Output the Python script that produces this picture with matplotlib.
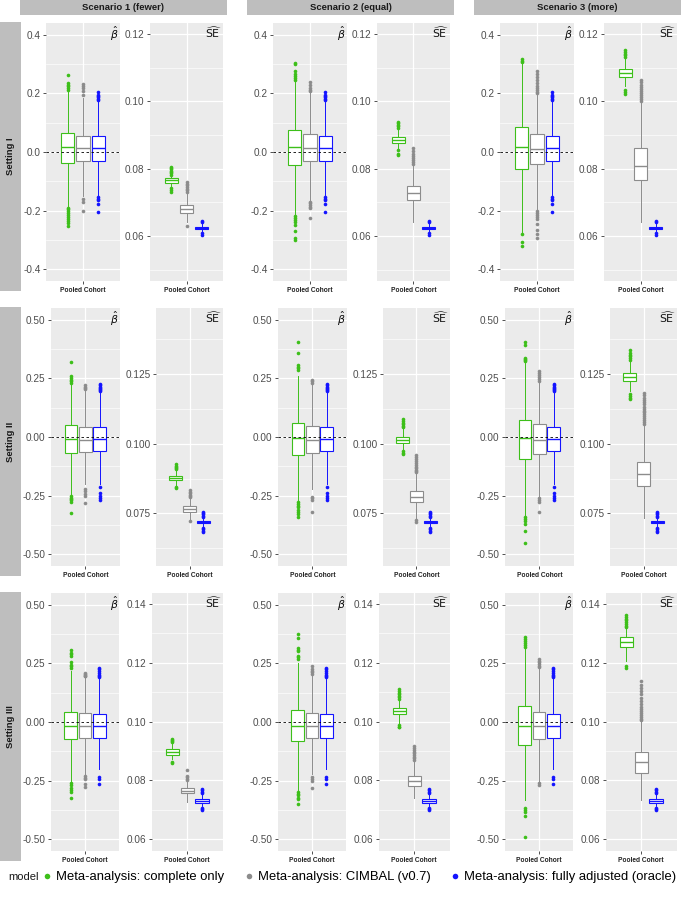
import matplotlib
matplotlib.use('Agg')
import matplotlib.pyplot as plt
from matplotlib.lines import Line2D
from matplotlib.patches import Rectangle

plt.rcParams['font.family'] = ['Liberation Sans', 'DejaVu Sans']
plt.rcParams['axes.unicode_minus'] = False
plt.rcParams['mathtext.fontset'] = 'dejavusans'

scenarios = ['Scenario 1 (fewer)', 'Scenario 2 (equal)', 'Scenario 3 (more)']
settings = ['Setting I', 'Setting II', 'Setting III']
models = ['Meta-analysis: complete only', 'Meta-analysis: CIMBAL (v0.7)',
          'Meta-analysis: fully adjusted (oracle)']
colors = ['#3dbf1a', '#8c8c8c', '#1414ff']

# box stats per scenario, per model: [whisker low, q1, median, q3, whisker high]
beta_I = [
    [[-0.185, -0.036, 0.018, 0.066, 0.21], [-0.15, -0.031, 0.015, 0.055, 0.185], [-0.15, -0.029, 0.013, 0.054, 0.175]],
    [[-0.212, -0.0445, 0.018, 0.0735, 0.24], [-0.165, -0.032, 0.0145, 0.06, 0.2], [-0.15, -0.029, 0.013, 0.054, 0.175]],
    [[-0.272, -0.057, 0.016, 0.086, 0.3], [-0.195, -0.04, 0.011, 0.063, 0.196], [-0.15, -0.029, 0.013, 0.054, 0.175]],
]
beta_I_out = [
    [[0.213, 0.218, 0.224, 0.23, 0.236, 0.262, -0.19, -0.196, -0.202, -0.208, -0.215, -0.222, -0.228, -0.235, -0.243, -0.252],
     [0.195, 0.208, 0.218, 0.226, 0.232, -0.16, -0.17, -0.2],
     [0.178, 0.182, 0.186, 0.19, 0.196, 0.205, -0.155, -0.16, -0.165, -0.178, -0.205]],
    [[0.247, 0.253, 0.26, 0.267, 0.275, 0.3, 0.305, -0.218, -0.225, -0.232, -0.24, -0.25, -0.27, -0.292, -0.3],
     [0.207, 0.213, 0.22, 0.23, 0.238, -0.17, -0.175, -0.18, -0.187, -0.192, -0.225],
     [0.178, 0.182, 0.186, 0.19, 0.196, 0.205, -0.155, -0.16, -0.165, -0.178, -0.205]],
    [[0.308, 0.312, 0.316, -0.28, -0.307, -0.32],
     [0.2, 0.206, 0.212, 0.218, 0.226, 0.235, 0.245, 0.255, 0.265, 0.275, -0.2, -0.207, -0.215, -0.222, -0.23, -0.245, -0.265, -0.28, -0.294],
     [0.178, 0.182, 0.186, 0.19, 0.196, 0.205, -0.155, -0.16, -0.165, -0.178, -0.205]],
]
se_I = [
    [[0.0745, 0.0758, 0.0765, 0.0772, 0.0779], [0.064, 0.0667, 0.068, 0.0692, 0.0728], [0.0612, 0.0622, 0.0625, 0.0628, 0.0637]],
    [[0.086, 0.0877, 0.0886, 0.0894, 0.0918], [0.064, 0.0706, 0.0727, 0.0749, 0.081], [0.0612, 0.0622, 0.0625, 0.0628, 0.0637]],
    [[0.1045, 0.1071, 0.1085, 0.1097, 0.1128], [0.0642, 0.0766, 0.0809, 0.086, 0.0998], [0.0612, 0.0622, 0.0625, 0.0628, 0.0637]],
]
se_I_out = [
    [[0.0782, 0.0786, 0.079, 0.0794, 0.0798, 0.0802, 0.0806, 0.0741, 0.0736, 0.073],
     [0.0732, 0.0736, 0.074, 0.0745, 0.075, 0.0755, 0.076, 0.063],
     [0.064, 0.0645, 0.0608, 0.0604]],
    [[0.0922, 0.0926, 0.093, 0.0935, 0.0938, 0.0855, 0.0845, 0.084],
     [0.0815, 0.082, 0.0826, 0.0832, 0.0838, 0.0845, 0.0852, 0.0862],
     [0.064, 0.0645, 0.0608, 0.0604]],
    [[0.1132, 0.1137, 0.1142, 0.1148, 0.1154, 0.1035, 0.1029, 0.1022],
     [0.1002, 0.1008, 0.1014, 0.102, 0.1026, 0.1032, 0.1038, 0.1044, 0.105, 0.1057, 0.1065],
     [0.064, 0.0645, 0.0608, 0.0604]],
]

beta_II = [
    [[-0.245, -0.07, -0.008, 0.05, 0.225], [-0.2, -0.063, -0.011, 0.043, 0.2], [-0.2, -0.06, -0.008, 0.042, 0.19]],
    [[-0.273, -0.076, -0.005, 0.06, 0.259], [-0.223, -0.067, -0.011, 0.046, 0.225], [-0.2, -0.06, -0.008, 0.042, 0.19]],
    [[-0.337, -0.093, -0.005, 0.0715, 0.316], [-0.252, -0.0715, -0.011, 0.056, 0.235], [-0.2, -0.06, -0.008, 0.042, 0.19]],
]
beta_II_out = [
    [[0.231, 0.237, 0.243, 0.25, 0.259, 0.32, -0.252, -0.258, -0.264, -0.27, -0.276, -0.323],
     [0.205, 0.21, 0.215, 0.223, -0.222, -0.232, -0.242, -0.25, -0.28],
     [0.195, 0.2, 0.205, 0.21, 0.215, 0.22, 0.225, -0.214, -0.238, -0.25, -0.26, -0.27]],
    [[0.287, 0.293, 0.3, 0.309, 0.358, 0.405, -0.277, -0.285, -0.293, -0.3, -0.31, -0.32, -0.33, -0.34],
     [0.232, 0.238, 0.245, -0.254, -0.262, -0.269, -0.32],
     [0.195, 0.2, 0.205, 0.21, 0.215, 0.22, 0.225, -0.214, -0.238, -0.25, -0.26, -0.27]],
    [[0.323, 0.327, 0.332, 0.337, 0.394, 0.403, -0.342, -0.35, -0.36, -0.37, -0.4, -0.45],
     [0.24, 0.247, 0.255, 0.263, 0.272, 0.28, -0.26, -0.268, -0.276, -0.32],
     [0.195, 0.2, 0.205, 0.21, 0.215, 0.22, 0.225, -0.214, -0.238, -0.25, -0.26, -0.27]],
]
se_II = [
    [[0.085, 0.0869, 0.0878, 0.0885, 0.0905], [0.0725, 0.0756, 0.0767, 0.0776, 0.0803], [0.0702, 0.0714, 0.0718, 0.0722, 0.0735]],
    [[0.098, 0.1003, 0.1014, 0.1025, 0.1055], [0.0735, 0.0789, 0.081, 0.0831, 0.0893], [0.0702, 0.0714, 0.0718, 0.0722, 0.0735]],
    [[0.119, 0.1225, 0.124, 0.1255, 0.1298], [0.0732, 0.0848, 0.089, 0.0935, 0.1064], [0.0702, 0.0714, 0.0718, 0.0722, 0.0735]],
]
se_II_out = [
    [[0.0908, 0.0912, 0.0916, 0.092, 0.0927, 0.0845, 0.084],
     [0.0807, 0.0812, 0.0817, 0.0822, 0.0828, 0.0834, 0.0721],
     [0.0738, 0.0742, 0.0746, 0.075, 0.0754, 0.0698, 0.0693, 0.0688, 0.0684]],
    [[0.1059, 0.1064, 0.107, 0.1076, 0.1082, 0.1087, 0.0972, 0.0966, 0.0963],
     [0.0897, 0.0902, 0.0907, 0.0912, 0.0918, 0.0924, 0.093, 0.0937, 0.0945, 0.0952, 0.0959, 0.0726, 0.0719],
     [0.0738, 0.0742, 0.0746, 0.075, 0.0754, 0.0698, 0.0693, 0.0688, 0.0684]],
    [[0.1302, 0.1308, 0.1314, 0.132, 0.1327, 0.1336, 0.1178, 0.1172, 0.1165, 0.1159],
     [0.107, 0.1077, 0.1084, 0.1091, 0.1098, 0.1105, 0.1112, 0.1119, 0.1126, 0.1133, 0.1141, 0.1149, 0.1157, 0.1165, 0.1174, 0.1183],
     [0.0738, 0.0742, 0.0746, 0.075, 0.0754, 0.0698, 0.0693, 0.0688, 0.0684]],
]

beta_III = [
    [[-0.252, -0.0745, -0.018, 0.043, 0.219], [-0.226, -0.067, -0.018, 0.039, 0.19], [-0.202, -0.069, -0.018, 0.035, 0.186]],
    [[-0.29, -0.0815, -0.015, 0.053, 0.252], [-0.223, -0.07, -0.018, 0.039, 0.2], [-0.202, -0.069, -0.018, 0.035, 0.186]],
    [[-0.333, -0.099, -0.015, 0.067, 0.311], [-0.252, -0.0745, -0.015, 0.042, 0.228], [-0.202, -0.069, -0.018, 0.035, 0.186]],
]
beta_III_out = [
    [[0.231, 0.238, 0.245, 0.254, 0.28, 0.288, 0.296, 0.306, -0.26, -0.27, -0.28, -0.29, -0.3, -0.323],
     [0.194, 0.198, 0.202, 0.206, 0.21, -0.232, -0.238, -0.244, -0.263, -0.277],
     [0.19, 0.196, 0.202, 0.21, 0.218, 0.226, 0.232, -0.234, -0.243, -0.263]],
    [[0.27, 0.276, 0.283, 0.301, 0.308, 0.316, 0.36, 0.375, -0.297, -0.305, -0.313, -0.322, -0.33, -0.351],
     [0.206, 0.212, 0.218, 0.225, 0.237, -0.235, -0.242, -0.25, -0.28],
     [0.19, 0.196, 0.202, 0.21, 0.218, 0.226, 0.232, -0.234, -0.243, -0.263]],
    [[0.32, 0.328, 0.336, 0.344, 0.352, 0.362, -0.365, -0.375, -0.385, -0.4, -0.489],
     [0.233, 0.24, 0.248, 0.256, 0.262, 0.269, -0.262, -0.27],
     [0.19, 0.196, 0.202, 0.21, 0.218, 0.226, 0.232, -0.234, -0.243, -0.263]],
]
se_III = [
    [[0.0872, 0.0887, 0.0897, 0.0906, 0.0925], [0.0728, 0.0756, 0.0765, 0.0773, 0.0797], [0.0712, 0.0722, 0.073, 0.0737, 0.0755]],
    [[0.0995, 0.1025, 0.1035, 0.1045, 0.1073], [0.0739, 0.0782, 0.0799, 0.0816, 0.0866], [0.0712, 0.0722, 0.073, 0.0737, 0.0755]],
    [[0.1205, 0.1252, 0.1269, 0.1287, 0.1315], [0.0734, 0.0825, 0.0861, 0.0896, 0.1001], [0.0712, 0.0722, 0.073, 0.0737, 0.0755]],
]
se_III_out = [
    [[0.0929, 0.0933, 0.0937, 0.0941, 0.0864, 0.0858],
     [0.0801, 0.0806, 0.0811, 0.0816, 0.0836],
     [0.0758, 0.0762, 0.0766, 0.0771, 0.0707, 0.0703, 0.07]],
    [[0.1077, 0.1082, 0.1087, 0.1092, 0.1098, 0.1104, 0.1109, 0.0988, 0.0983, 0.098],
     [0.087, 0.0875, 0.088, 0.0886, 0.0892, 0.0898, 0.0905, 0.0911, 0.0918],
     [0.0758, 0.0762, 0.0766, 0.0771, 0.0707, 0.0703, 0.07]],
    [[0.132, 0.1326, 0.1332, 0.1338, 0.1344, 0.135, 0.1356, 0.1363, 0.119, 0.1182],
     [0.1005, 0.101, 0.1016, 0.1022, 0.1028, 0.1035, 0.1042, 0.105, 0.106, 0.107, 0.108, 0.1095, 0.1105, 0.1115, 0.1125, 0.1139],
     [0.0758, 0.0762, 0.0766, 0.0771, 0.0707, 0.0703, 0.07]],
]

beta_rows = [(beta_I, beta_I_out), (beta_II, beta_II_out), (beta_III, beta_III_out)]
se_rows = [(se_I, se_I_out), (se_II, se_II_out), (se_III, se_III_out)]

# axis settings per setting row
beta_lims = [(-0.44, 0.44), (-0.55, 0.55), (-0.55, 0.55)]
beta_ticks = [[-0.4, -0.2, 0.0, 0.2, 0.4], [-0.5, -0.25, 0.0, 0.25, 0.5], [-0.5, -0.25, 0.0, 0.25, 0.5]]
beta_labels = [['-0.4', '-0.2', '0.0', '0.2', '0.4'], ['-0.50', '-0.25', '0.00', '0.25', '0.50'],
               ['-0.50', '-0.25', '0.00', '0.25', '0.50']]
beta_minor = [[-0.3, -0.1, 0.1, 0.3], [-0.375, -0.125, 0.125, 0.375], [-0.375, -0.125, 0.125, 0.375]]
se_lims = [(0.0466, 0.1233), (0.0561, 0.1487), (0.056, 0.1437)]
se_ticks = [[0.06, 0.08, 0.10, 0.12], [0.075, 0.100, 0.125], [0.06, 0.08, 0.10, 0.12, 0.14]]
se_labels = [['0.06', '0.08', '0.10', '0.12'], ['0.075', '0.100', '0.125'], ['0.06', '0.08', '0.10', '0.12', '0.14']]
se_minor = [[0.05, 0.07, 0.09, 0.11], [0.0625, 0.0875, 0.1125, 0.1375], [0.07, 0.09, 0.11, 0.13]]

# panel placement inside each cell (pixels): beta offset, beta width, se offset, se width
cell_layout = [(26, 74, 130, 73), (30.7, 69.3, 136, 67), (30.7, 68.5, 131.7, 71)]

W, H = 682, 901
fig = plt.figure(figsize=(W / 100, H / 100), dpi=100)


def frac(x0, y0, w, h):
    return [x0 / W, 1 - (y0 + h) / H, w / W, h / H]


def draw_panel(ax, stats, outs, ylim, ticks, labels, minor, label, zero_line):
    ax.set_facecolor('#EBEBEB')
    for k in range(3):
        s = stats[k]
        d = dict(whislo=s[0], q1=s[1], med=s[2], q3=s[3], whishi=s[4], fliers=outs[k])
        ax.bxp([d], positions=[0.75 + 0.25 * k], widths=0.22, patch_artist=True, showcaps=False,
               boxprops=dict(facecolor='white', edgecolor=colors[k], linewidth=0.8),
               medianprops=dict(color=colors[k], linewidth=1.0),
               whiskerprops=dict(color=colors[k], linewidth=0.7),
               flierprops=dict(marker='o', markerfacecolor=colors[k], markeredgecolor='none',
                               markersize=2.6),
               zorder=3)
    if zero_line:
        ax.axhline(0, color='black', lw=0.6, ls=(0, (3, 3)), zorder=4)
    ax.set_xlim(0.4, 1.6)
    ax.set_ylim(*ylim)
    ax.set_yticks(ticks)
    ax.set_yticklabels(labels)
    ax.set_yticks(minor, minor=True)
    ax.set_xticks([1.0])
    ax.set_xticklabels(['Pooled Cohort'], fontweight='bold', fontsize=4.8, color='#222222')
    ax.set_axisbelow(True)
    ax.grid(which='major', color='white', lw=0.9)
    ax.grid(which='minor', axis='y', color='white', lw=0.45)
    for sp in ax.spines.values():
        sp.set_visible(False)
    ax.tick_params(axis='both', which='major', length=2.5, width=0.6, color='#333333', pad=1.5)
    ax.tick_params(axis='y', labelsize=7.2, labelcolor='#4D4D4D')
    ax.tick_params(which='minor', length=0)
    ax.text(0.985, 0.995, label, transform=ax.transAxes, ha='right', va='top', fontsize=7.8,
            color='#111111', zorder=5)


for r in range(3):
    top = 23 + r * 285
    bo, bw, so, sw = cell_layout[r]
    for c in range(3):
        x0 = 20 + c * 227
        ax_b = fig.add_axes(frac(x0 + bo, top, bw, 258))
        draw_panel(ax_b, beta_rows[r][0][c], beta_rows[r][1][c], beta_lims[r], beta_ticks[r],
                   beta_labels[r], beta_minor[r], r'$\hat{\beta}$', True)
        ax_s = fig.add_axes(frac(x0 + so, top, sw, 258))
        draw_panel(ax_s, se_rows[r][0][c], se_rows[r][1][c], se_lims[r], se_ticks[r],
                   se_labels[r], se_minor[r], r'$\widehat{\mathrm{SE}}$', False)
    # row strip
    fig.add_artist(Rectangle((0, 1 - (top - 1 + 269) / H), 20.5 / W, 269 / H,
                             transform=fig.transFigure, facecolor='#BEBEBE', edgecolor='none'))
    fig.text(10.5 / W, 1 - (top - 1 + 134.5) / H, settings[r], rotation=90, ha='center',
             va='center', fontsize=6.8, fontweight='bold', color='#1A1A1A')

for c in range(3):
    x0 = 20 + c * 227
    fig.add_artist(Rectangle((x0 / W, 1 - 14.5 / H), 207 / W, 14.5 / H,
                             transform=fig.transFigure, facecolor='#BEBEBE', edgecolor='none'))
    fig.text((x0 + 103.5) / W, 1 - 7.5 / H, scenarios[c], ha='center', va='center',
             fontsize=6.8, fontweight='bold', color='#1A1A1A')

# legend
fig.text(8 / W, 1 - 877 / H, 'model', ha='left', va='center', fontsize=8.0, color='#1A1A1A')
handles = [Line2D([], [], ls='none', marker='o', markersize=4, markerfacecolor=col,
                  markeredgecolor='none') for col in colors]
fig.legend(handles, models, loc='center left', bbox_to_anchor=(42 / W, 1 - 877 / H), ncol=3,
           frameon=False, fontsize=9.4, handlelength=0.8, handletextpad=0.3,
           columnspacing=1.45, borderaxespad=0, borderpad=0)

fig.savefig('out.png', dpi=100)
